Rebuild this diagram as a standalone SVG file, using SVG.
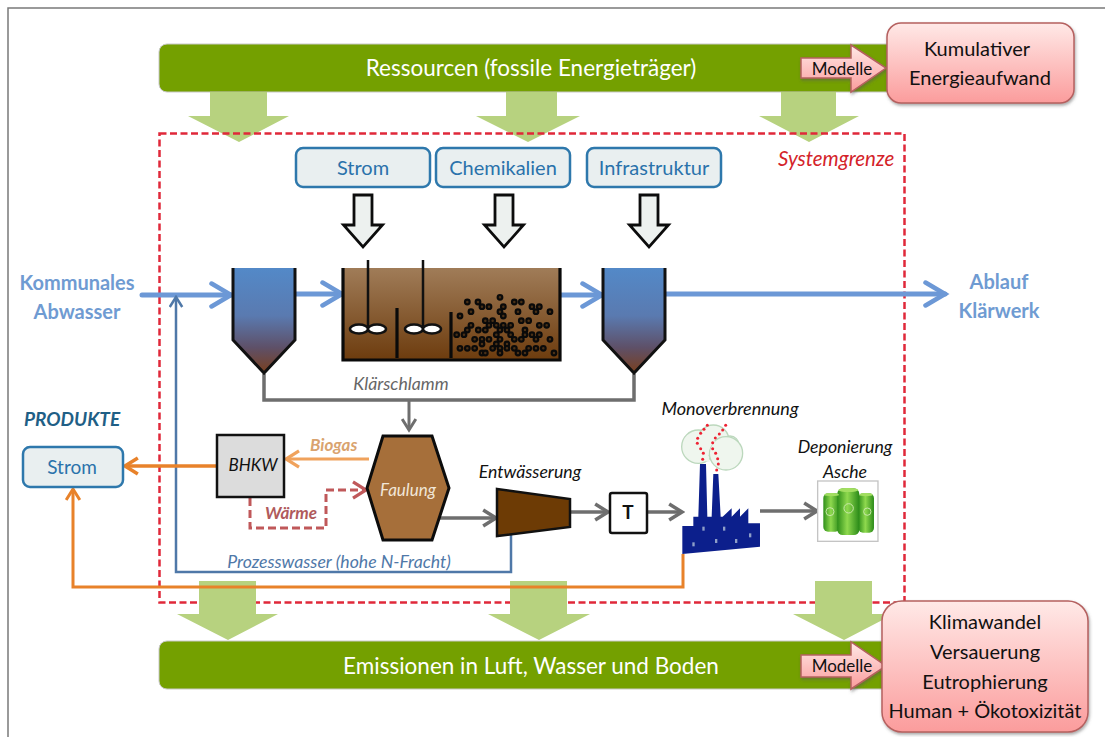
<svg xmlns="http://www.w3.org/2000/svg" width="1105" height="737" viewBox="0 0 1105 737">
<style>
text{font-family:Lato,"Liberation Sans",sans-serif}
.c{text-anchor:middle}
.band{fill:#74a000;stroke:#c8c8c8;stroke-width:1}
.big{font-size:22.500px;fill:#fff}
.down{fill:#b7d27f}
.pink{fill:url(#pk);stroke:#b5605f;stroke-width:1.5;filter:url(#sh)}
.pt{font-size:20px;fill:#111}
.sup{fill:#e9eff0;stroke:#2e78ac;stroke-width:2.5}
.st{font-size:20px;fill:#2a72ab}
.hol{fill:#edf1ef;stroke:#0c0c0c;stroke-width:2.800}
.blue{fill:none;stroke:#6c98d6;stroke-width:5;stroke-linecap:round}
.grey{fill:none;stroke:#6e6e6e;stroke-width:3.5}
.it{font-style:italic;font-size:17.700px;fill:#111}
.lab{font-size:20px;font-weight:700;fill:#6f9bd2}
.dot{fill:#4a3016;stroke:#0a0a0a;stroke-width:6.500}
.sm{fill:#ee2233}
.cloud{fill:#eff6ee;stroke:#bcd8bd;stroke-width:4}
.win{fill:#8f9fc8}
</style>
<defs>
<linearGradient id="pk" x1="0" y1="0" x2="0" y2="1"><stop offset="0" stop-color="#ffe9e7"/><stop offset="1" stop-color="#fb9c9c"/></linearGradient>
<linearGradient id="clar" x1="0" y1="0" x2="0" y2="1"><stop offset="0" stop-color="#5389c8"/><stop offset=".45" stop-color="#5a7ab0"/><stop offset=".75" stop-color="#5e5068"/><stop offset="1" stop-color="#7b3f1c"/></linearGradient>
<linearGradient id="tank" x1="0" y1="0" x2="0" y2="1"><stop offset="0" stop-color="#a07c58"/><stop offset="1" stop-color="#6d3c0e"/></linearGradient>
<linearGradient id="bar" x1="0" y1="0" x2="1" y2="0"><stop offset="0" stop-color="#2f8f1a"/><stop offset=".45" stop-color="#8fd94e"/><stop offset="1" stop-color="#2a8a18"/></linearGradient>
<filter id="sh" x="-10%" y="-10%" width="125%" height="125%"><feDropShadow dx="1" dy="2" stdDeviation="1.5" flood-color="#555" flood-opacity=".5"/></filter>
<marker id="mB" viewBox="0 0 12 12" refX="10" refY="6" markerWidth="5.500" markerHeight="5.500" orient="auto" markerUnits="strokeWidth"><path d="M1.500 1L10 6L1.500 11" fill="none" stroke="#6c98d6" stroke-width="2" stroke-linecap="round"/></marker>
<marker id="mG" viewBox="0 0 12 12" refX="10" refY="6" markerWidth="5.5" markerHeight="5.5" orient="auto" markerUnits="strokeWidth"><path d="M2 1L10 6L2 11" fill="none" stroke="#6e6e6e" stroke-width="2.2"/></marker>
<marker id="mO" viewBox="0 0 12 12" refX="10" refY="6" markerWidth="5.5" markerHeight="5.5" orient="auto" markerUnits="strokeWidth"><path d="M2 1L10 6L2 11" fill="none" stroke="#e8822a" stroke-width="2.2"/></marker>
<marker id="mL" viewBox="0 0 12 12" refX="10" refY="6" markerWidth="6.5" markerHeight="6.5" orient="auto" markerUnits="strokeWidth"><path d="M2 1L10 6L2 11" fill="none" stroke="#f0a25c" stroke-width="2"/></marker>
<marker id="mR" viewBox="0 0 12 12" refX="10" refY="6" markerWidth="6.5" markerHeight="6.5" orient="auto" markerUnits="strokeWidth"><path d="M2 1L10 6L2 11" fill="none" stroke="#c0585a" stroke-width="2"/></marker>
<marker id="mS" viewBox="0 0 12 12" refX="10" refY="6" markerWidth="6" markerHeight="6" orient="auto" markerUnits="strokeWidth"><path d="M2 1L10 6L2 11" fill="none" stroke="#4f78a8" stroke-width="2"/></marker>
<path id="hollow" d="M-9 0H9V30H19.500L0 52L-19.500 30H-9Z"/>
<circle id="d" r="7" class="dot"/>
</defs>

<rect width="1105" height="737" fill="#fff"/>
<path id="frame" d="M8 737V8H1105" fill="none" stroke="#7a7a7a" stroke-width="1.5"/>

<g id="band-top"><rect class="band" x="159" y="44" width="745" height="48" rx="8"/><text class="big c" x="531" y="76">Ressourcen (fossile Energieträger)</text></g>
<g id="down-arrows-top" class="down">
<path d="M210 92H267V116H289L239 142L188 116H210Z"/>
<path d="M506 92H557V116H580L528 142L476 116H506Z"/>
<path d="M781 92H836V116H859L809 142L759 116H781Z"/>
</g>

<rect id="systemgrenze" x="159.500" y="133.500" width="745" height="469" fill="none" stroke="#e0283a" stroke-width="2.500" stroke-dasharray="7 3.500"/>
<text x="778" y="166" font-size="20.500" font-style="italic" fill="#d4232a">Systemgrenze</text>

<g id="down-arrows-bottom" class="down">
<path d="M199 581H256V614H278L228 640L177 614H199Z"/>
<path d="M510 581H567V614H590L539 640L488 614H510Z"/>
<path d="M815 581H872V614H894L844 640L793 614H815Z"/>
</g>
<g id="band-bottom"><rect class="band" x="159" y="641" width="745" height="48" rx="8"/><text class="big c" x="531" y="674">Emissionen in Luft, Wasser und Boden</text></g>

<g id="modelle-top"><path class="pink" d="M801 58H851V45L886 68L851 92V78H801Z"/><text class="c" x="842" y="75" font-size="17" fill="#111">Modelle</text></g>
<g id="modelle-bottom"><path class="pink" d="M801 655H851V642L886 666L851 689V677H801Z"/><text class="c" x="842" y="672" font-size="17" fill="#111">Modelle</text></g>
<g id="kea"><rect class="pink" x="887" y="23" width="187" height="80" rx="14"/><text class="pt c" x="977" y="56">Kumulativer</text><text class="pt c" x="980" y="85">Energieaufwand</text></g>
<g id="impact"><rect class="pink" x="882" y="601" width="206" height="131" rx="20"/><text class="pt c" x="985" y="629">Klimawandel</text><text class="pt c" x="985" y="659">Versauerung</text><text class="pt c" x="985" y="689">Eutrophierung</text><text class="pt c" x="985" y="718">Human + Ökotoxizität</text></g>

<g id="connectors">
<path class="blue" d="M142 295H231" marker-end="url(#mB)"/>
<path class="blue" d="M296 294H342" marker-end="url(#mB)"/>
<path class="blue" d="M561 295H602" marker-end="url(#mB)"/>
<path class="blue" d="M666 294H945" marker-end="url(#mB)"/>
<path class="grey" d="M264 374V400H634V374"/>
<path class="grey" d="M409 400V430" marker-end="url(#mG)" style="stroke-width:3"/>
<path d="M369 459H286" fill="none" stroke="#f0a25c" stroke-width="3" marker-end="url(#mL)"/>
<path d="M250 498V528H326V490H366" fill="none" stroke="#c0585a" stroke-width="3" stroke-dasharray="8 4" marker-end="url(#mR)"/>
<path class="grey" d="M440 518H496" marker-end="url(#mG)"/>
<path class="grey" d="M570 512H608" marker-end="url(#mG)"/>
<path class="grey" d="M648 512H682" marker-end="url(#mG)"/>
<path class="grey" d="M760 511H817" marker-end="url(#mG)"/>
<path d="M511 531V572H176V297" fill="none" stroke="#4f78a8" stroke-width="2.500" marker-end="url(#mS)"/>
<path d="M216 466H125" fill="none" stroke="#e8822a" stroke-width="3.500" marker-end="url(#mO)"/>
<path d="M683 554V587H73V489" fill="none" stroke="#e8822a" stroke-width="3" marker-end="url(#mO)"/>
</g>

<g id="strom-in"><rect class="sup" x="296" y="148" width="134" height="39" rx="7"/><text class="st c" x="363" y="175">Strom</text></g>
<g id="chem"><rect class="sup" x="436" y="148" width="134" height="39" rx="7"/><text class="st c" x="503" y="175">Chemikalien</text></g>
<g id="infra"><rect class="sup" x="587" y="148" width="134" height="39" rx="7"/><text class="st c" x="654" y="175">Infrastruktur</text></g>
<g id="hollow-arrows" class="hol">
<use href="#hollow" x="363" y="195"/><use href="#hollow" x="504" y="195"/><use href="#hollow" x="649" y="195"/>
</g>

<g id="clarifier-1"><path d="M232 268H296V340L264 374L232 340Z" fill="url(#clar)"/><path d="M233 268V340L264 373L295 340V268" fill="none" stroke="#111" stroke-width="3"/></g>
<g id="clarifier-2"><path d="M602 268H666V340L634 374L602 340Z" fill="url(#clar)"/><path d="M603 268V340L634 373L665 340V268" fill="none" stroke="#111" stroke-width="3"/></g>

<g id="tank-node">
<rect x="342" y="268" width="219" height="92" fill="url(#tank)"/>
<path d="M343 268V360H560V268M397 358V308M451 358V312" fill="none" stroke="#0a0a0a" stroke-width="3.200"/>
<path d="M368 260V326M423 260V326" stroke="#111" stroke-width="2.500"/>
<g fill="#fff" stroke="#111" stroke-width="2.500">
<ellipse cx="359" cy="329" rx="9" ry="4.500"/><ellipse cx="377" cy="329" rx="9" ry="4.500"/><ellipse cx="414" cy="329" rx="9" ry="4.500"/><ellipse cx="432" cy="329" rx="9" ry="4.500"/>
</g>
<g transform="translate(330 250) scale(.3333)">
<use href="#d" x="510" y="142"/><use href="#d" x="412" y="156"/><use href="#d" x="444" y="156"/><use href="#d" x="456" y="170"/><use href="#d" x="477" y="170"/><use href="#d" x="553" y="156"/><use href="#d" x="574" y="156"/><use href="#d" x="606" y="170"/><use href="#d" x="628" y="170"/><use href="#d" x="618" y="185"/><use href="#d" x="423" y="185"/><use href="#d" x="520" y="170"/><use href="#d" x="510" y="185"/><use href="#d" x="520" y="198"/><use href="#d" x="564" y="185"/><use href="#d" x="660" y="185"/><use href="#d" x="390" y="198"/><use href="#d" x="574" y="212"/><use href="#d" x="596" y="212"/><use href="#d" x="466" y="212"/><use href="#d" x="488" y="212"/><use href="#d" x="423" y="226"/><use href="#d" x="477" y="226"/><use href="#d" x="499" y="226"/><use href="#d" x="520" y="226"/><use href="#d" x="542" y="226"/><use href="#d" x="628" y="226"/><use href="#d" x="650" y="226"/><use href="#d" x="412" y="240"/><use href="#d" x="445" y="240"/><use href="#d" x="466" y="240"/><use href="#d" x="510" y="240"/><use href="#d" x="531" y="240"/><use href="#d" x="585" y="240"/><use href="#d" x="380" y="254"/><use href="#d" x="402" y="254"/><use href="#d" x="542" y="254"/><use href="#d" x="499" y="254"/><use href="#d" x="585" y="254"/><use href="#d" x="606" y="254"/><use href="#d" x="628" y="254"/><use href="#d" x="434" y="268"/><use href="#d" x="456" y="268"/><use href="#d" x="477" y="268"/><use href="#d" x="510" y="268"/><use href="#d" x="553" y="268"/><use href="#d" x="574" y="268"/><use href="#d" x="618" y="268"/><use href="#d" x="660" y="268"/><use href="#d" x="499" y="282"/><use href="#d" x="456" y="282"/><use href="#d" x="531" y="282"/><use href="#d" x="390" y="295"/><use href="#d" x="412" y="295"/><use href="#d" x="434" y="295"/><use href="#d" x="488" y="295"/><use href="#d" x="510" y="295"/><use href="#d" x="531" y="295"/><use href="#d" x="553" y="295"/><use href="#d" x="596" y="295"/><use href="#d" x="618" y="295"/><use href="#d" x="640" y="295"/><use href="#d" x="456" y="309"/><use href="#d" x="466" y="309"/><use href="#d" x="510" y="309"/><use href="#d" x="564" y="309"/><use href="#d" x="585" y="309"/><use href="#d" x="672" y="309"/>
</g>
</g>

<g id="bhkw"><rect x="217" y="435" width="67" height="62" fill="#dcdcdc" stroke="#111" stroke-width="2.500"/><text class="c" x="253" y="471" font-size="17" font-style="italic" fill="#111">BHKW</text></g>
<g id="faulung"><path d="M383 436H432L449 488L432 540H383L367 488Z" fill="#a66f3a" stroke="#0c0c0c" stroke-width="3"/><text class="c" x="408" y="496" font-size="17" font-style="italic" fill="#f1e6d8">Faulung</text></g>
<g id="entwaesserung"><path d="M497 489L570 499V527L497 536Z" fill="#6d3b05" stroke="#111" stroke-width="2.500"/></g>
<g id="t-box"><rect x="610" y="493" width="37" height="40" rx="2" fill="#fff" stroke="#111" stroke-width="2.500"/><text class="c" x="628" y="519" font-size="19" font-weight="700" fill="#111">T</text></g>

<g id="monoverbrennung" transform="translate(650 400) scale(.3333)">
<g class="cloud"><circle cx="145" cy="140" r="50"/><circle cx="190" cy="122" r="47"/><circle cx="240" cy="135" r="27"/><circle cx="228" cy="160" r="50"/><path d="M120 108A50 50 0 0 1 195 125A50 50 0 0 0 180 185A46 46 0 0 1 130 150Z" stroke="none"/></g>
<path d="M97 378L130 378V350H145L150 192H168L172 350H185L190 222H205L212 350H218L245 325V350L270 325V350L295 325V370H330V440L97 462Z" fill="#0c1f8c"/>
<g class="win"><rect x="157" y="380" width="7" height="12"/><rect x="219" y="380" width="7" height="12"/><rect x="127" y="427" width="7" height="12"/><rect x="195" y="417" width="7" height="12"/><rect x="255" y="417" width="7" height="12"/><rect x="297" y="400" width="7" height="12"/></g>
<g class="sm"><circle cx="158" cy="178" r="4.500"/><circle cx="160" cy="160" r="4.500"/><circle cx="152" cy="146" r="4.500"/><circle cx="142" cy="130" r="4.500"/><circle cx="143" cy="115" r="4.500"/><circle cx="152" cy="100" r="4.500"/><circle cx="162" cy="88" r="4.500"/><circle cx="172" cy="76" r="4.500"/><circle cx="200" cy="210" r="4.500"/><circle cx="205" cy="192" r="4.500"/><circle cx="203" cy="176" r="4.500"/><circle cx="197" cy="160" r="4.500"/><circle cx="188" cy="146" r="4.500"/><circle cx="188" cy="128" r="4.500"/><circle cx="196" cy="114" r="4.500"/><circle cx="208" cy="102" r="4.500"/><circle cx="218" cy="90" r="4.500"/><circle cx="227" cy="76" r="4.500"/></g>
</g>
<g id="deponie" transform="translate(650 400) scale(.3333)"><rect x="503" y="243" width="181" height="181" fill="#fff" stroke="#c4c4c4" stroke-width="4"/>
<g fill="url(#bar)"><rect x="520" y="280" width="50" height="115" rx="14"/><rect x="625" y="280" width="47" height="118" rx="14"/><rect x="562" y="265" width="66" height="140" rx="16"/></g>
<g fill="none" stroke="#c7e8a8" stroke-width="3"><circle cx="540" cy="335" r="12"/><circle cx="596" cy="325" r="14"/><circle cx="652" cy="335" r="11"/></g>
<g fill="#a2de60"><ellipse cx="545" cy="284" rx="22" ry="5"/><ellipse cx="595" cy="270" rx="30" ry="6"/><ellipse cx="648" cy="284" rx="20" ry="5"/></g>
</g>

<g id="produkt-strom"><rect class="sup" x="23" y="447" width="100" height="40" rx="7"/><text class="st c" x="72" y="474" style="font-size:19px">Strom</text></g>

<g id="labels">
<text class="lab c" x="77" y="290">Kommunales</text><text class="lab c" x="77" y="319">Abwasser</text>
<text class="lab c" x="999" y="289">Ablauf</text><text class="lab c" x="999" y="318">Klärwerk</text>
<text x="24" y="426" font-size="19" font-weight="700" font-style="italic" fill="#1f5f86">PRODUKTE</text>
<text class="it c" x="401" y="390" style="fill:#666">Klärschlamm</text>
<text x="310" y="451" font-size="17" font-style="italic" font-weight="700" fill="#d9a36f">Biogas</text>
<text x="265" y="519" font-size="17" font-style="italic" font-weight="700" fill="#b05a5c">Wärme</text>
<text class="it c" x="530" y="478">Entwässerung</text>
<text class="it c" x="730" y="415" style="font-size:18px">Monoverbrennung</text>
<text class="it c" x="845" y="453">Deponierung</text>
<text class="it c" x="845" y="478">Asche</text>
<text class="it c" x="339" y="568" style="fill:#4f78a8">Prozesswasser (hohe N-Fracht)</text>
</g>
</svg>
